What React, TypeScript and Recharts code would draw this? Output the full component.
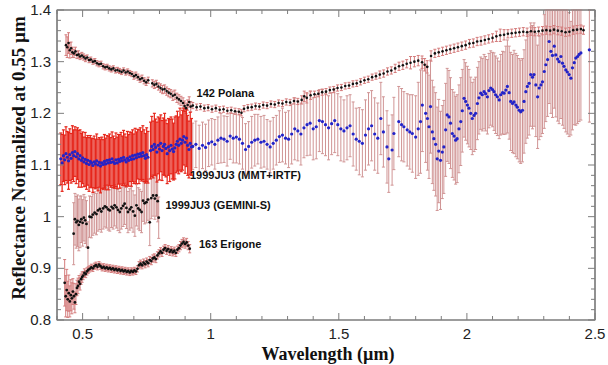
import { ErrorBar, Label, ReferenceArea, ReferenceDot, Scatter, ScatterChart, XAxis, YAxis } from 'recharts'

// [wavelength µm, reflectance, 1-sigma error]
type Pt = [number, number, number]

const X_DOMAIN: [number, number] = [0.4, 2.5]
const Y_DOMAIN: [number, number] = [0.8, 1.4]
const X_TICKS = [0.4, 0.5, 0.6, 0.7, 0.8, 0.9, 1, 1.1, 1.2, 1.3, 1.4, 1.5, 1.6, 1.7, 1.8, 1.9, 2, 2.1, 2.2, 2.3, 2.4, 2.5]
const X_LABELS = [0.5, 1, 1.5, 2, 2.5]
const Y_TICKS = [
  0.8, 0.82, 0.84, 0.86, 0.88, 0.9, 0.92, 0.94, 0.96, 0.98, 1, 1.02, 1.04, 1.06, 1.08, 1.1,
  1.12, 1.14, 1.16, 1.18, 1.2, 1.22, 1.24, 1.26, 1.28, 1.3, 1.32, 1.34, 1.36, 1.38, 1.4,
]
const Y_LABELS = [0.8, 0.9, 1, 1.1, 1.2, 1.3, 1.4]

const SERIES_NAMES = ['142 Polana', '1999JU3 (MMT+IRTF)', '1999JU3 (GEMINI-S)', '163 Erigone']
const NAME_AT: [number, number][] = [
  [0.945, 1.24],
  [0.919, 1.081],
  [0.8235, 1.0226],
  [0.954, 0.947],
]

const polana: Pt[] = [
  [0.435, 1.332, 0.02], [0.44, 1.328, 0.02], [0.445, 1.336, 0.02], [0.45, 1.322, 0.015], [0.455, 1.326, 0.012],
  [0.46, 1.318, 0.01], [0.466, 1.316, 0.008], [0.472, 1.32, 0.008], [0.478, 1.313, 0.007], [0.484, 1.314, 0.007],
  [0.49, 1.31, 0.006], [0.497, 1.312, 0.006], [0.504, 1.309, 0.006], [0.511, 1.306, 0.006], [0.518, 1.308, 0.005],
  [0.525, 1.303, 0.005], [0.532, 1.304, 0.005], [0.54, 1.3, 0.005], [0.548, 1.301, 0.005], [0.556, 1.297, 0.005],
  [0.564, 1.295, 0.005], [0.572, 1.296, 0.005], [0.58, 1.291, 0.005], [0.588, 1.289, 0.005], [0.596, 1.29, 0.005],
  [0.604, 1.287, 0.005], [0.612, 1.285, 0.005], [0.62, 1.287, 0.005], [0.628, 1.283, 0.005], [0.636, 1.284, 0.005],
  [0.644, 1.282, 0.005], [0.652, 1.28, 0.005], [0.66, 1.283, 0.005], [0.668, 1.279, 0.005], [0.676, 1.281, 0.005],
  [0.684, 1.278, 0.005], [0.692, 1.276, 0.005], [0.7, 1.272, 0.006], [0.708, 1.274, 0.006], [0.716, 1.27, 0.006],
  [0.724, 1.266, 0.006], [0.732, 1.268, 0.006], [0.74, 1.263, 0.006], [0.748, 1.26, 0.006], [0.756, 1.264, 0.006],
  [0.772, 1.258, 0.007], [0.78, 1.255, 0.007], [0.788, 1.257, 0.007], [0.796, 1.252, 0.007], [0.804, 1.249, 0.008],
  [0.812, 1.246, 0.008], [0.82, 1.247, 0.008], [0.828, 1.243, 0.008], [0.836, 1.24, 0.008], [0.844, 1.238, 0.008],
  [0.852, 1.234, 0.009], [0.86, 1.236, 0.009], [0.868, 1.23, 0.009], [0.876, 1.227, 0.009], [0.884, 1.224, 0.009],
  [0.892, 1.22, 0.01], [0.898, 1.214, 0.01], [0.904, 1.21, 0.01], [0.91, 1.216, 0.01], [0.916, 1.222, 0.01],
  [0.922, 1.213, 0.01],
  [0.93, 1.215, 0.006], [0.945, 1.212, 0.006], [0.96, 1.213, 0.006], [0.975, 1.21, 0.006], [0.99, 1.211, 0.006],
  [1.005, 1.208, 0.006], [1.02, 1.21, 0.006], [1.035, 1.207, 0.006], [1.05, 1.208, 0.006], [1.065, 1.205, 0.006],
  [1.08, 1.206, 0.006], [1.095, 1.204, 0.006], [1.11, 1.203, 0.006], [1.12, 1.201, 0.006], [1.13, 1.209, 0.006],
  [1.145, 1.211, 0.006], [1.16, 1.212, 0.006], [1.175, 1.214, 0.006], [1.19, 1.213, 0.006], [1.205, 1.216, 0.006],
  [1.22, 1.215, 0.006], [1.235, 1.218, 0.006], [1.25, 1.217, 0.006], [1.265, 1.22, 0.006], [1.28, 1.219, 0.006],
  [1.295, 1.222, 0.006], [1.31, 1.221, 0.006], [1.325, 1.224, 0.006], [1.34, 1.223, 0.006], [1.355, 1.226, 0.008],
  [1.365, 1.233, 0.01], [1.375, 1.23, 0.01], [1.39, 1.235, 0.008], [1.405, 1.237, 0.006], [1.42, 1.238, 0.006],
  [1.435, 1.241, 0.006], [1.45, 1.242, 0.006], [1.465, 1.245, 0.006], [1.48, 1.246, 0.006], [1.495, 1.249, 0.006],
  [1.51, 1.25, 0.006], [1.525, 1.253, 0.006], [1.54, 1.254, 0.006], [1.555, 1.257, 0.006], [1.57, 1.258, 0.006],
  [1.585, 1.261, 0.006], [1.6, 1.264, 0.006], [1.615, 1.266, 0.006], [1.63, 1.27, 0.006], [1.645, 1.272, 0.006],
  [1.66, 1.275, 0.007], [1.675, 1.277, 0.007], [1.69, 1.281, 0.007], [1.705, 1.283, 0.007], [1.72, 1.287, 0.008],
  [1.735, 1.291, 0.008], [1.75, 1.293, 0.008], [1.765, 1.296, 0.008], [1.78, 1.298, 0.012], [1.795, 1.3, 0.01],
  [1.81, 1.302, 0.01], [1.825, 1.299, 0.012], [1.835, 1.294, 0.012], [1.845, 1.29, 0.012], [1.86, 1.311, 0.01],
  [1.875, 1.316, 0.008], [1.89, 1.318, 0.008], [1.905, 1.32, 0.008], [1.92, 1.322, 0.008], [1.935, 1.324, 0.008],
  [1.95, 1.326, 0.008], [1.965, 1.328, 0.008], [1.98, 1.33, 0.008], [1.995, 1.332, 0.008], [2.01, 1.335, 0.008],
  [2.025, 1.336, 0.008], [2.04, 1.339, 0.008], [2.055, 1.34, 0.008], [2.07, 1.342, 0.008], [2.085, 1.344, 0.008],
  [2.1, 1.346, 0.008], [2.115, 1.349, 0.01], [2.13, 1.351, 0.012], [2.145, 1.352, 0.01], [2.16, 1.354, 0.008],
  [2.175, 1.355, 0.008], [2.19, 1.356, 0.008], [2.205, 1.357, 0.008], [2.22, 1.358, 0.008], [2.235, 1.357, 0.008],
  [2.25, 1.359, 0.008], [2.265, 1.358, 0.008], [2.28, 1.359, 0.008], [2.295, 1.36, 0.008], [2.31, 1.361, 0.008],
  [2.325, 1.36, 0.008], [2.34, 1.362, 0.008], [2.355, 1.36, 0.008], [2.37, 1.359, 0.008], [2.385, 1.357, 0.008],
  [2.4, 1.358, 0.008], [2.415, 1.361, 0.008], [2.43, 1.362, 0.008], [2.445, 1.363, 0.008], [2.455, 1.361, 0.008],
]

// 1999JU3 MMT visible spectrum
const ju3Visible: Pt[] = [
  [0.415, 1.112, 0.05], [0.42, 1.104, 0.055], [0.425, 1.118, 0.05], [0.43, 1.11, 0.048], [0.435, 1.122, 0.052],
  [0.44, 1.115, 0.05], [0.445, 1.108, 0.055], [0.45, 1.12, 0.05], [0.455, 1.113, 0.048], [0.46, 1.124, 0.052],
  [0.465, 1.118, 0.05], [0.47, 1.126, 0.048], [0.475, 1.116, 0.052], [0.48, 1.122, 0.05], [0.485, 1.112, 0.055],
  [0.49, 1.118, 0.05], [0.495, 1.109, 0.052], [0.5, 1.114, 0.05], [0.505, 1.106, 0.048], [0.51, 1.111, 0.052],
  [0.515, 1.103, 0.05], [0.52, 1.109, 0.048], [0.525, 1.101, 0.052], [0.53, 1.107, 0.05], [0.535, 1.104, 0.048],
  [0.54, 1.099, 0.052], [0.545, 1.106, 0.05], [0.55, 1.102, 0.048], [0.555, 1.108, 0.052], [0.56, 1.1, 0.05],
  [0.565, 1.105, 0.048], [0.57, 1.098, 0.052], [0.575, 1.104, 0.05], [0.58, 1.101, 0.048], [0.585, 1.107, 0.052],
  [0.59, 1.102, 0.05], [0.595, 1.109, 0.048], [0.6, 1.104, 0.052], [0.605, 1.11, 0.05], [0.61, 1.105, 0.048],
  [0.615, 1.112, 0.052], [0.62, 1.106, 0.05], [0.625, 1.103, 0.048], [0.63, 1.11, 0.052], [0.635, 1.104, 0.05],
  [0.64, 1.111, 0.048], [0.645, 1.107, 0.052], [0.65, 1.113, 0.05], [0.655, 1.108, 0.048], [0.66, 1.115, 0.052],
  [0.665, 1.11, 0.05], [0.67, 1.106, 0.048], [0.675, 1.113, 0.052], [0.68, 1.109, 0.05], [0.685, 1.116, 0.048],
  [0.69, 1.111, 0.052], [0.695, 1.118, 0.05], [0.7, 1.112, 0.048], [0.705, 1.119, 0.052], [0.71, 1.114, 0.05],
  [0.715, 1.121, 0.048], [0.72, 1.116, 0.052], [0.725, 1.122, 0.05], [0.73, 1.117, 0.048], [0.735, 1.124, 0.052],
  [0.74, 1.118, 0.05], [0.745, 1.113, 0.048], [0.75, 1.12, 0.052], [0.755, 1.115, 0.05],
  [0.765, 1.128, 0.055], [0.77, 1.136, 0.058], [0.775, 1.13, 0.055], [0.78, 1.14, 0.06], [0.785, 1.134, 0.055],
  [0.79, 1.125, 0.058], [0.795, 1.138, 0.055], [0.8, 1.131, 0.06], [0.805, 1.142, 0.055], [0.81, 1.128, 0.058],
  [0.815, 1.136, 0.055], [0.82, 1.14, 0.06], [0.825, 1.132, 0.055], [0.83, 1.122, 0.058], [0.835, 1.135, 0.055],
  [0.84, 1.128, 0.06], [0.845, 1.138, 0.055], [0.85, 1.131, 0.058], [0.855, 1.126, 0.055], [0.86, 1.133, 0.06],
  [0.865, 1.14, 0.055], [0.87, 1.146, 0.058], [0.875, 1.138, 0.055], [0.88, 1.15, 0.06], [0.885, 1.142, 0.055],
  [0.89, 1.148, 0.058], [0.895, 1.155, 0.055], [0.9, 1.144, 0.06], [0.905, 1.152, 0.055], [0.91, 1.138, 0.058],
  [0.915, 1.13, 0.055], [0.92, 1.142, 0.06], [0.925, 1.135, 0.055],
]

// 1999JU3 IRTF near-infrared spectrum
const ju3Infrared: Pt[] = [
  [0.93, 1.136, 0.045], [0.942, 1.14, 0.045], [0.955, 1.132, 0.045], [0.968, 1.138, 0.045], [0.98, 1.134, 0.045],
  [0.992, 1.142, 0.045], [1.004, 1.145, 0.045], [1.016, 1.14, 0.048], [1.028, 1.148, 0.045], [1.04, 1.152, 0.048],
  [1.052, 1.15, 0.045], [1.064, 1.146, 0.048], [1.076, 1.156, 0.045], [1.088, 1.152, 0.048], [1.1, 1.154, 0.05],
  [1.112, 1.15, 0.048], [1.124, 1.142, 0.05], [1.136, 1.13, 0.05], [1.148, 1.136, 0.048], [1.16, 1.144, 0.05],
  [1.172, 1.148, 0.05], [1.184, 1.15, 0.048], [1.196, 1.144, 0.05], [1.208, 1.146, 0.05], [1.22, 1.14, 0.048],
  [1.232, 1.135, 0.05], [1.244, 1.142, 0.05], [1.256, 1.148, 0.048], [1.268, 1.155, 0.05], [1.28, 1.158, 0.052],
  [1.292, 1.152, 0.05], [1.304, 1.15, 0.055], [1.316, 1.16, 0.058], [1.328, 1.17, 0.06], [1.34, 1.166, 0.058],
  [1.352, 1.16, 0.06], [1.364, 1.172, 0.058], [1.376, 1.178, 0.06], [1.388, 1.181, 0.062], [1.4, 1.17, 0.06],
  [1.412, 1.174, 0.062], [1.424, 1.186, 0.06], [1.436, 1.184, 0.062], [1.448, 1.178, 0.06], [1.46, 1.172, 0.062],
  [1.472, 1.18, 0.06], [1.484, 1.186, 0.062], [1.496, 1.178, 0.06], [1.508, 1.17, 0.062], [1.52, 1.166, 0.06],
  [1.532, 1.172, 0.062], [1.544, 1.176, 0.06], [1.556, 1.16, 0.062], [1.568, 1.15, 0.06], [1.58, 1.146, 0.065],
  [1.592, 1.142, 0.065], [1.604, 1.158, 0.068], [1.616, 1.17, 0.07], [1.628, 1.176, 0.068], [1.64, 1.16, 0.07],
  [1.652, 1.152, 0.068], [1.664, 1.19, 0.07], [1.674, 1.164, 0.068], [1.688, 1.135, 0.07], [1.695, 1.112, 0.065],
  [1.708, 1.129, 0.068], [1.715, 1.161, 0.07], [1.734, 1.184, 0.068], [1.745, 1.178, 0.07], [1.754, 1.174, 0.068],
  [1.767, 1.168, 0.07], [1.777, 1.164, 0.072], [1.787, 1.161, 0.075], [1.8, 1.154, 0.08], [1.81, 1.17, 0.09],
  [1.819, 1.184, 0.1], [1.826, 1.216, 0.09], [1.839, 1.2, 0.095], [1.846, 1.19, 0.1], [1.852, 1.174, 0.1],
  [1.858, 1.213, 0.09], [1.865, 1.164, 0.1], [1.871, 1.151, 0.1], [1.878, 1.14, 0.1], [1.884, 1.112, 0.1],
  [1.89, 1.127, 0.1], [1.897, 1.109, 0.095], [1.904, 1.125, 0.09], [1.91, 1.135, 0.09], [1.917, 1.168, 0.09],
  [1.923, 1.197, 0.09], [1.93, 1.193, 0.09], [1.936, 1.181, 0.088], [1.943, 1.161, 0.085], [1.95, 1.156, 0.085],
  [1.956, 1.148, 0.085], [1.962, 1.151, 0.085], [1.969, 1.17, 0.085], [1.976, 1.184, 0.085], [1.982, 1.205, 0.08],
  [1.989, 1.229, 0.075], [1.995, 1.223, 0.075], [2.002, 1.216, 0.075], [2.008, 1.21, 0.075], [2.015, 1.2, 0.07],
  [2.021, 1.19, 0.07], [2.028, 1.196, 0.07], [2.034, 1.2, 0.07], [2.041, 1.219, 0.07], [2.047, 1.23, 0.07],
  [2.054, 1.239, 0.07], [2.06, 1.236, 0.07], [2.067, 1.242, 0.072], [2.073, 1.238, 0.072], [2.08, 1.232, 0.072],
  [2.086, 1.244, 0.072], [2.093, 1.249, 0.072], [2.1, 1.246, 0.072], [2.106, 1.242, 0.075], [2.112, 1.236, 0.075],
  [2.119, 1.232, 0.075], [2.126, 1.226, 0.075], [2.132, 1.236, 0.078], [2.139, 1.24, 0.08], [2.145, 1.239, 0.08],
  [2.152, 1.245, 0.085], [2.158, 1.252, 0.09], [2.165, 1.24, 0.09], [2.171, 1.223, 0.095], [2.178, 1.219, 0.095],
  [2.184, 1.222, 0.1], [2.191, 1.216, 0.1], [2.197, 1.212, 0.1], [2.204, 1.206, 0.1], [2.21, 1.203, 0.1],
  [2.217, 1.206, 0.1], [2.223, 1.223, 0.1], [2.23, 1.242, 0.1], [2.236, 1.252, 0.1], [2.243, 1.258, 0.1],
  [2.249, 1.275, 0.1], [2.256, 1.27, 0.1], [2.262, 1.275, 0.1], [2.269, 1.255, 0.1], [2.276, 1.232, 0.1],
  [2.282, 1.249, 0.1], [2.289, 1.255, 0.1], [2.295, 1.261, 0.1], [2.302, 1.281, 0.11], [2.308, 1.294, 0.11],
  [2.315, 1.304, 0.11], [2.321, 1.339, 0.12], [2.328, 1.32, 0.12], [2.334, 1.312, 0.12], [2.341, 1.33, 0.12],
  [2.347, 1.313, 0.12], [2.354, 1.305, 0.12], [2.36, 1.3, 0.12], [2.367, 1.31, 0.12], [2.373, 1.297, 0.12],
  [2.379, 1.291, 0.12], [2.386, 1.284, 0.12], [2.392, 1.28, 0.12], [2.399, 1.275, 0.12], [2.406, 1.268, 0.11],
  [2.412, 1.288, 0.12], [2.419, 1.298, 0.12], [2.425, 1.307, 0.13], [2.432, 1.31, 0.13], [2.438, 1.314, 0.13],
  [2.445, 1.317, 0.13], [2.478, 1.323, 0.14],
]

const ju3Gemini: Pt[] = [
  [0.465, 0.967, 0.06], [0.47, 0.995, 0.05], [0.475, 0.989, 0.05], [0.48, 0.992, 0.05], [0.485, 0.984, 0.05],
  [0.49, 0.99, 0.05], [0.495, 0.995, 0.045], [0.5, 0.988, 0.045], [0.505, 0.998, 0.045], [0.51, 0.993, 0.045],
  [0.515, 0.986, 0.045], [0.521, 0.94, 0.05], [0.527, 1.0, 0.04], [0.534, 0.999, 0.04], [0.54, 1.004, 0.04],
  [0.547, 1.008, 0.04], [0.554, 1.005, 0.04], [0.56, 1.012, 0.04], [0.567, 1.015, 0.04], [0.573, 1.01, 0.04],
  [0.58, 1.016, 0.04], [0.587, 1.02, 0.04], [0.593, 1.018, 0.04], [0.6, 1.014, 0.04], [0.606, 1.012, 0.04],
  [0.613, 1.019, 0.04], [0.619, 1.016, 0.04], [0.625, 1.022, 0.04], [0.632, 1.018, 0.04], [0.638, 1.013, 0.04],
  [0.645, 1.009, 0.04], [0.651, 1.016, 0.04], [0.658, 1.021, 0.04], [0.664, 1.025, 0.04], [0.671, 1.017, 0.04],
  [0.677, 1.009, 0.04], [0.684, 1.014, 0.04], [0.69, 1.018, 0.04], [0.697, 1.01, 0.04], [0.704, 1.002, 0.04],
  [0.71, 1.022, 0.04], [0.717, 1.016, 0.04], [0.723, 1.013, 0.04], [0.73, 1.009, 0.04], [0.736, 1.031, 0.04],
  [0.742, 1.026, 0.04], [0.749, 1.028, 0.04], [0.755, 1.033, 0.04], [0.762, 0.989, 0.045], [0.768, 1.036, 0.04],
  [0.775, 1.041, 0.04], [0.782, 1.035, 0.04], [0.788, 1.041, 0.04], [0.793, 1.03, 0.04], [0.797, 0.998, 0.04],
]

const erigone: Pt[] = [
  [0.43, 0.872, 0.045], [0.434, 0.846, 0.04], [0.438, 0.858, 0.04], [0.442, 0.84, 0.035], [0.446, 0.852, 0.035],
  [0.45, 0.836, 0.03], [0.454, 0.848, 0.03], [0.458, 0.842, 0.03], [0.462, 0.855, 0.025], [0.466, 0.846, 0.025],
  [0.47, 0.834, 0.02], [0.474, 0.85, 0.02], [0.478, 0.862, 0.015], [0.482, 0.866, 0.015], [0.486, 0.874, 0.012],
  [0.49, 0.87, 0.012], [0.494, 0.879, 0.01], [0.498, 0.883, 0.01], [0.502, 0.886, 0.008], [0.507, 0.891, 0.008],
  [0.512, 0.889, 0.007], [0.517, 0.894, 0.007], [0.522, 0.897, 0.006], [0.528, 0.899, 0.006], [0.534, 0.902, 0.006],
  [0.54, 0.9, 0.006], [0.546, 0.904, 0.006], [0.552, 0.906, 0.006], [0.558, 0.903, 0.006], [0.564, 0.907, 0.006],
  [0.57, 0.904, 0.006], [0.576, 0.901, 0.006], [0.582, 0.903, 0.006], [0.588, 0.9, 0.006], [0.594, 0.902, 0.006],
  [0.6, 0.899, 0.006], [0.606, 0.901, 0.006], [0.612, 0.898, 0.006], [0.618, 0.9, 0.006], [0.624, 0.897, 0.006],
  [0.63, 0.899, 0.006], [0.636, 0.896, 0.006], [0.642, 0.898, 0.006], [0.648, 0.895, 0.006], [0.654, 0.897, 0.006],
  [0.66, 0.894, 0.006], [0.666, 0.896, 0.006], [0.672, 0.893, 0.006], [0.678, 0.895, 0.006], [0.684, 0.892, 0.006],
  [0.69, 0.895, 0.006], [0.696, 0.893, 0.006], [0.702, 0.896, 0.006], [0.708, 0.894, 0.006], [0.714, 0.899, 0.006],
  [0.72, 0.906, 0.007], [0.726, 0.909, 0.007], [0.732, 0.906, 0.007], [0.738, 0.911, 0.007], [0.744, 0.908, 0.007],
  [0.75, 0.913, 0.007], [0.756, 0.91, 0.007], [0.762, 0.916, 0.007], [0.768, 0.914, 0.007], [0.774, 0.919, 0.007],
  [0.78, 0.921, 0.007], [0.786, 0.918, 0.007], [0.792, 0.925, 0.007], [0.798, 0.929, 0.007], [0.804, 0.933, 0.007],
  [0.81, 0.93, 0.007], [0.816, 0.936, 0.007], [0.822, 0.939, 0.007], [0.828, 0.934, 0.007], [0.834, 0.937, 0.007],
  [0.84, 0.932, 0.007], [0.846, 0.935, 0.007], [0.852, 0.931, 0.007], [0.858, 0.934, 0.007], [0.864, 0.93, 0.007],
  [0.87, 0.936, 0.007], [0.876, 0.939, 0.007], [0.882, 0.944, 0.008], [0.888, 0.948, 0.008], [0.894, 0.951, 0.008],
  [0.9, 0.947, 0.008], [0.906, 0.95, 0.008], [0.912, 0.944, 0.008], [0.918, 0.938, 0.008],
]

// error bars are cut at the plot window, like the original figure
const rows = (pts: Pt[]) =>
  pts.map(([x, y, e]) => ({
    x,
    y,
    e: [Math.min(e, y - Y_DOMAIN[0]), Math.min(e, Y_DOMAIN[1] - y)],
  }))

const AXIS = '#7d7d7d'
const PINK = '#d09494'
const RED = '#e6261b'
const BLUE = '#2323c8'
const SANS = '"Liberation Sans", Arial, Helvetica, sans-serif'
const SERIF = '"Liberation Serif", "Times New Roman", serif'

function AxisTick(props: any) {
  const { x, y, payload, side } = props
  const v = payload.value as number
  const horizontal = side === 'bottom' || side === 'top'
  const major = horizontal ? X_LABELS.includes(v) : Y_LABELS.includes(v)
  const len = major ? 7 : 4
  const textStyle = { fontFamily: SANS, fontSize: 15, fill: '#222' }
  if (side === 'bottom') {
    return (
      <g>
        <line x1={x} y1={y} x2={x} y2={y - len} stroke={AXIS} />
        {major && (
          <text x={x} y={y + 19} textAnchor="middle" style={textStyle}>
            {v}
          </text>
        )}
      </g>
    )
  }
  if (side === 'top') return <line x1={x} y1={y} x2={x} y2={y + len} stroke={AXIS} />
  if (side === 'left') {
    return (
      <g>
        <line x1={x} y1={y} x2={x + len} y2={y} stroke={AXIS} />
        {major && (
          <text x={x - 6} y={y + 5} textAnchor="end" style={textStyle}>
            {v}
          </text>
        )}
      </g>
    )
  }
  return <line x1={x} y1={y} x2={x - len} y2={y} stroke={AXIS} />
}

const dot = (color: string, r: number) => (p: any) => <circle cx={p.cx} cy={p.cy} r={r} fill={color} />

export default function App() {
  return (
    <div>
      <style>{'body{margin:0}'}</style>
      <ScatterChart width={608} height={365} margin={{ top: 9, right: 12, left: 0, bottom: 0 }}>
        <XAxis
          xAxisId="b"
          type="number"
          dataKey="x"
          domain={X_DOMAIN}
          allowDataOverflow
          ticks={X_TICKS}
          interval={0}
          height={45}
          tickSize={0}
          tickMargin={0}
          tickLine={false}
          axisLine={{ stroke: AXIS, strokeWidth: 1.2 }}
          tick={(p: any) => <AxisTick {...p} side="bottom" />}
        >
          <Label
            content={(p: any) => (
              <text
                x={p.viewBox.x + p.viewBox.width / 2 + 2}
                y={p.viewBox.y + 40}
                textAnchor="middle"
                style={{ fontFamily: SERIF, fontWeight: 700, fontSize: 18, fill: '#111' }}
              >
                Wavelength (µm)
              </text>
            )}
          />
        </XAxis>
        <XAxis
          xAxisId="t"
          orientation="top"
          type="number"
          dataKey="x"
          domain={X_DOMAIN}
          allowDataOverflow
          ticks={X_TICKS}
          interval={0}
          height={1}
          tickSize={0}
          tickMargin={0}
          tickLine={false}
          axisLine={{ stroke: AXIS, strokeWidth: 1.2 }}
          tick={(p: any) => <AxisTick {...p} side="top" />}
        />
        <YAxis
          yAxisId="l"
          type="number"
          dataKey="y"
          domain={Y_DOMAIN}
          allowDataOverflow
          ticks={Y_TICKS}
          interval={0}
          width={57}
          tickSize={0}
          tickMargin={0}
          tickLine={false}
          axisLine={{ stroke: AXIS, strokeWidth: 1.2 }}
          tick={(p: any) => <AxisTick {...p} side="left" />}
        >
          <Label
            content={(p: any) => {
              const cx = 25
              const cy = p.viewBox.y + p.viewBox.height / 2 - 7
              return (
                <text
                  x={cx}
                  y={cy}
                  transform={`rotate(-90, ${cx}, ${cy})`}
                  textAnchor="middle"
                  style={{ fontFamily: SERIF, fontWeight: 700, fontSize: 19, fill: '#111' }}
                >
                  Reflectance Normalized at 0.55 µm
                </text>
              )
            }}
          />
        </YAxis>
        <YAxis
          yAxisId="r"
          orientation="right"
          type="number"
          dataKey="y"
          domain={Y_DOMAIN}
          allowDataOverflow
          ticks={Y_TICKS}
          interval={0}
          width={1}
          tickSize={0}
          tickMargin={0}
          tickLine={false}
          axisLine={{ stroke: AXIS, strokeWidth: 1.2 }}
          tick={(p: any) => <AxisTick {...p} side="right" />}
        />

        <Scatter xAxisId="b" yAxisId="l" data={rows(ju3Infrared)} isAnimationActive={false} shape={dot(BLUE, 1.6)}>
          <ErrorBar dataKey="e" direction="y" width={1.5} stroke={PINK} strokeWidth={1} />
        </Scatter>
        <Scatter xAxisId="b" yAxisId="l" data={rows(polana)} isAnimationActive={false} shape={dot('#111', 1.3)}>
          <ErrorBar dataKey="e" direction="y" width={1.5} stroke="#d47c7c" strokeWidth={1} />
        </Scatter>
        <Scatter xAxisId="b" yAxisId="l" data={rows(ju3Gemini)} isAnimationActive={false} shape={dot('#111', 1.4)}>
          <ErrorBar dataKey="e" direction="y" width={1.5} stroke={PINK} strokeWidth={1} />
        </Scatter>
        <Scatter xAxisId="b" yAxisId="l" data={rows(erigone)} isAnimationActive={false} shape={dot('#111', 1.4)}>
          <ErrorBar dataKey="e" direction="y" width={1.5} stroke="#d47c7c" strokeWidth={1} />
        </Scatter>
        <Scatter xAxisId="b" yAxisId="l" data={rows(ju3Visible)} isAnimationActive={false} shape={dot(BLUE, 1.6)}>
          <ErrorBar dataKey="e" direction="y" width={1.5} stroke={RED} strokeWidth={1.2} />
        </Scatter>

        <ReferenceArea
          xAxisId="b"
          yAxisId="l"
          x1={X_DOMAIN[0]}
          x2={X_DOMAIN[1]}
          y1={Y_DOMAIN[0]}
          y2={Y_DOMAIN[1]}
          fill="none"
          fillOpacity={0}
          stroke={AXIS}
          strokeWidth={1.2}
        />

        {SERIES_NAMES.map((name, i) => (
          <ReferenceDot
            key={name}
            xAxisId="b"
            yAxisId="l"
            x={NAME_AT[i][0]}
            y={NAME_AT[i][1]}
            r={0}
            fill="none"
            stroke="none"
            label={{
              value: name,
              position: 'right',
              offset: 0,
              fill: '#111',
              fontSize: 11,
              fontWeight: 700,
              fontFamily: SANS,
            }}
          />
        ))}
      </ScatterChart>
    </div>
  )
}
